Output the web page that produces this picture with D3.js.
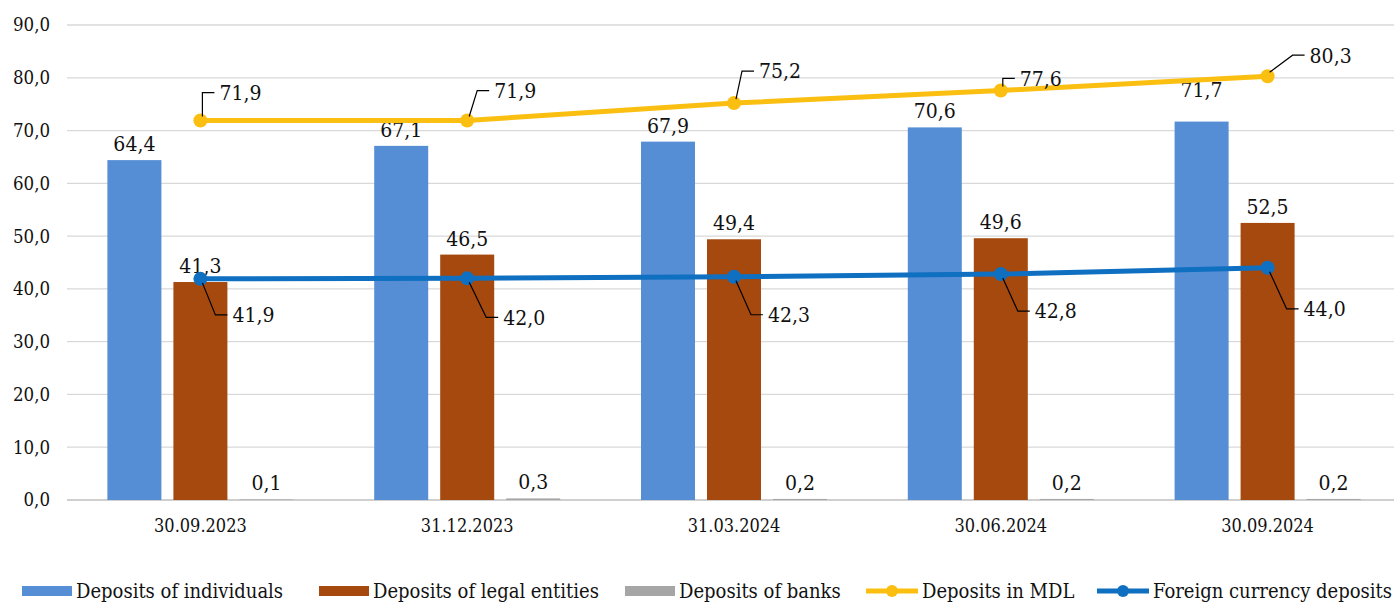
<!DOCTYPE html>
<html>
<head>
<meta charset="utf-8">
<script src="https://cdn.jsdelivr.net/npm/d3@7"></script>
<style>
  body { margin: 0; background: #fff; }
  text { font-family: "DejaVu Serif Condensed", "DejaVu Serif", serif; fill: #111; }
</style>
</head>
<body>
<div id="chart"></div>
<script>
// data
var dates = ["30.09.2023", "31.12.2023", "31.03.2024", "30.06.2024", "30.09.2024"];
var individuals = [64.4, 67.1, 67.9, 70.6, 71.7];
var legal = [41.3, 46.5, 49.4, 49.6, 52.5];
var banks = [0.1, 0.3, 0.2, 0.2, 0.2];
var mdl = [71.9, 71.9, 75.2, 77.6, 80.3];
var foreign = [41.9, 42.0, 42.3, 42.8, 44.0];
var yTicks = [0, 10, 20, 30, 40, 50, 60, 70, 80, 90];

// leader-line label offsets (placed by hand in the original)
var mdlOff = [[2, -28], [10, -30], [8, -32], [2, -12], [25, -21]];
var fxOff = [[15, 36], [19, 39], [17, 38], [17, 37], [19, 41]];
var indLift = [0, 0, 0, 0, 16];

var W = 1394, H = 603;
var svg = d3.select("#chart").append("svg").attr("width", W).attr("height", H);

var x = d3.scaleBand().domain(dates).range([67, 1401]);
var y = d3.scaleLinear().domain([0, 90]).range([500, 25]);
var fmt = function(v) { return d3.format(".1f")(v).replace(".", ","); };

// grid
svg.append("g").selectAll("line").data(yTicks).enter().append("line")
  .attr("x1", 67).attr("x2", W)
  .attr("y1", function(d) { return y(d); }).attr("y2", function(d) { return y(d); })
  .attr("stroke", function(d) { return d == 0 ? "#bfbfbf" : "#d9d9d9"; })
  .attr("stroke-width", 1.3);

svg.append("g").selectAll("text").data(yTicks).enter().append("text")
  .attr("x", 50).attr("y", function(d) { return y(d); })
  .attr("dy", "0.35em").attr("text-anchor", "end")
  .style("font-size", "18.5px").text(fmt);

// category labels
svg.append("g").selectAll("text").data(dates).enter().append("text")
  .attr("x", function(d) { return x(d) + x.bandwidth() / 2; })
  .attr("y", 532).attr("text-anchor", "middle")
  .style("font-size", "18px").text(function(d) { return d; });

var barW = 54, gap = 12;
var series = [
  { vals: individuals, color: "#558ed5", k: -1, lift: indLift },
  { vals: legal, color: "#a5490f", k: 0, lift: [0, 0, 0, 0, 0] },
  { vals: banks, color: "#a6a6a6", k: 1, lift: [0, 0, 0, 0, 0] }
];
function cx(i) { return x(dates[i]) + x.bandwidth() / 2; }

series.forEach(function(s) {
  var g = svg.append("g");
  g.selectAll("rect").data(s.vals).enter().append("rect")
    .attr("x", function(d, i) { return cx(i) + s.k * (barW + gap) - barW / 2; })
    .attr("y", function(d) { return y(d); })
    .attr("width", barW)
    .attr("height", function(d) { return 500 - y(d); })
    .attr("fill", s.color);
  g.selectAll("text").data(s.vals).enter().append("text")
    .attr("x", function(d, i) { return cx(i) + s.k * (barW + gap); })
    .attr("y", function(d, i) { return y(d) - 9 - s.lift[i]; })
    .attr("text-anchor", "middle")
    .style("font-size", "21px").text(fmt);
});

// lines
var line = d3.line().x(function(d, i) { return cx(i); }).y(function(d) { return y(d); });

function drawLine(vals, color, offs) {
  var g = svg.append("g");
  g.append("path").attr("d", line(vals)).attr("fill", "none")
    .attr("stroke", color).attr("stroke-width", 5);
  g.selectAll("circle").data(vals).enter().append("circle")
    .attr("cx", function(d, i) { return cx(i); })
    .attr("cy", function(d) { return y(d); })
    .attr("r", 7).attr("fill", color);
  vals.forEach(function(v, i) {
    var px = cx(i), py = y(v), o = offs[i];
    var sy = o[1] < 0 ? -4 : 4;
    g.append("polyline")
      .attr("points", [[px + 2, py + sy], [px + o[0], py + o[1]], [px + o[0] + 12, py + o[1]]].join(" "))
      .attr("fill", "none").attr("stroke", "#000").attr("stroke-width", 1.2);
    g.append("text").attr("x", px + o[0] + 17).attr("y", py + o[1])
      .attr("dy", "0.35em").style("font-size", "21px").text(fmt(v));
  });
}
drawLine(mdl, "#fbbf12", mdlOff);
drawLine(foreign, "#0f6fc0", fxOff);

// legend
var legend = [
  { name: "Deposits of individuals", color: "#558ed5", type: "bar", x: 22 },
  { name: "Deposits of legal entities", color: "#a5490f", type: "bar", x: 319 },
  { name: "Deposits of banks", color: "#a6a6a6", type: "bar", x: 625 },
  { name: "Deposits in MDL", color: "#fbbf12", type: "line", x: 866 },
  { name: "Foreign currency deposits", color: "#0f6fc0", type: "line", x: 1097 }
];
var lg = svg.append("g").selectAll("g").data(legend).enter().append("g")
  .attr("transform", function(d) { return "translate(" + d.x + ",591)"; });
lg.filter(function(d) { return d.type == "bar"; }).append("rect")
  .attr("x", 0).attr("y", -5).attr("width", 50).attr("height", 10)
  .attr("fill", function(d) { return d.color; });
lg.filter(function(d) { return d.type == "line"; }).append("line")
  .attr("x1", 0).attr("x2", 52).attr("stroke-width", 5)
  .attr("stroke", function(d) { return d.color; });
lg.filter(function(d) { return d.type == "line"; }).append("circle")
  .attr("cx", 26).attr("r", 6).attr("fill", function(d) { return d.color; });
lg.append("text").attr("x", function(d) { return d.type == "bar" ? 54 : 56; })
  .attr("dy", "0.35em").style("font-size", "20px").text(function(d) { return d.name; });
</script>
</body>
</html>
